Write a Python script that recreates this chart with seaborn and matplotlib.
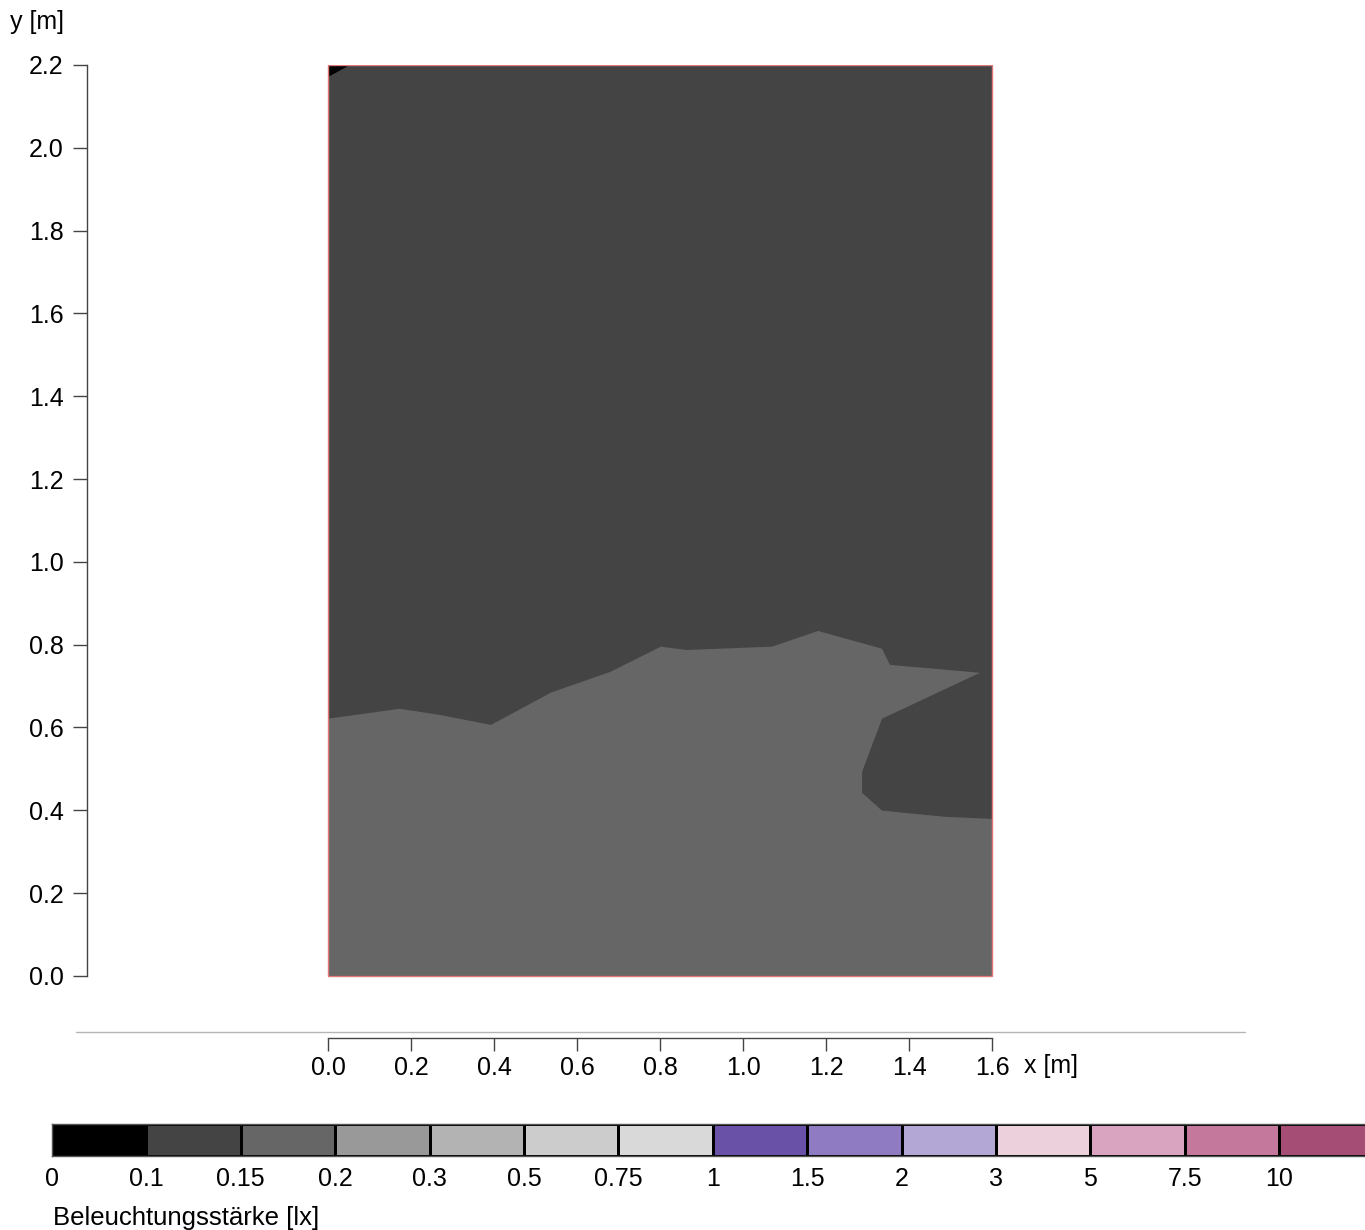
import numpy as np
import matplotlib
matplotlib.use("Agg")
import matplotlib.pyplot as plt
from matplotlib.colors import ListedColormap
from matplotlib.lines import Line2D
from matplotlib.patches import Rectangle
import seaborn as sns

# Illuminance classes [lx] and their fill colours
level_labels = ["0", "0.1", "0.15", "0.2", "0.3", "0.5", "0.75", "1",
                "1.5", "2", "3", "5", "7.5", "10"]
level_colors = ["#000000", "#444444", "#666666", "#999999", "#b3b3b3",
                "#cccccc", "#d9d9d9", "#6a51a8", "#8f7bc2", "#b3a7d6",
                "#ecd1dc", "#d8a4bf", "#c4789c", "#a64d75"]

# Room footprint [m]
room_width = 1.6
room_depth = 2.2

# 0.15 lx isoline (between the 0.1-0.15 and 0.15-0.2 classes)
iso015_x = [0.0, 0.173, 0.270, 0.393, 0.537, 0.680, 0.802, 0.863, 1.070,
            1.181, 1.335, 1.354, 1.571, 1.335, 1.287, 1.287, 1.335, 1.487, 1.6]
iso015_y = [0.621, 0.645, 0.630, 0.606, 0.684, 0.734, 0.795, 0.787, 0.795,
            0.833, 0.790, 0.751, 0.732, 0.621, 0.493, 0.442, 0.399, 0.384, 0.379]

# 0.1 lx isoline in the upper left corner
iso010_x = [0.0, 0.053, 0.0]
iso010_y = [2.2, 2.2, 2.171]

sns.set_theme(style="white")
plt.rcParams["font.family"] = ["Liberation Sans", "DejaVu Sans"]
plt.rcParams["font.size"] = 18
plt.rcParams["text.color"] = "black"

FS = 18
W, H = 1365, 1230
fig = plt.figure(figsize=(W / 100, H / 100), dpi=100)


def px_box(left, top, right, bottom):
    return [left / W, 1 - bottom / H, (right - left) / W, (bottom - top) / H]


# ---- floor plan ----
ax = fig.add_axes(px_box(87, 65, 1245, 1038))
ax.set_facecolor("white")
ax.set_xlim((87 - 328) / 415, (1245 - 328) / 415)
ax.set_ylim(room_depth - (1038 - 65) / 414, room_depth)

ax.add_patch(Rectangle((0, 0), room_width, room_depth,
                       facecolor=level_colors[1], edgecolor="none", zorder=1))
ax.fill(iso015_x + [room_width, 0.0], iso015_y + [0.0, 0.0],
        color=level_colors[2], lw=0, zorder=2)
ax.fill(iso010_x, iso010_y, color=level_colors[0], lw=0, zorder=3)
ax.add_patch(Rectangle((0, 0), room_width, room_depth, facecolor="none",
                       edgecolor="#e07878", lw=1, zorder=4))

for s in ("top", "right"):
    ax.spines[s].set_visible(False)
for s in ("left", "bottom"):
    ax.spines[s].set_color("#444444")
    ax.spines[s].set_linewidth(1)
ax.spines["left"].set_bounds(0, room_depth)
ax.spines["bottom"].set_bounds(0, room_width)

yt = np.round(np.arange(0, 2.21, 0.2), 1)
xt = np.round(np.arange(0, 1.61, 0.2), 1)
ax.set_yticks(yt, [f"{v:.1f}" for v in yt])
ax.set_xticks(xt, [f"{v:.1f}" for v in xt])
ax.tick_params(axis="y", left=True, length=10, width=1, color="#444444",
               pad=7, labelsize=FS, labelcolor="black")
ax.tick_params(axis="x", bottom=True, length=9, width=1, color="#444444",
               pad=4, labelsize=FS, labelcolor="black")
ax.grid(False)

fig.text(10 / W, 1 - 22 / H, "y [m]", ha="left", va="center", fontsize=FS,
         color="black")
fig.text(1024 / W, 1 - 1066 / H, "x [m]", ha="left", va="center",
         fontsize=FS, color="black")
fig.add_artist(Line2D([76 / W, 1245 / W], [1 - 1032 / H] * 2,
                      color="#b5b5b5", lw=1))

# ---- legend bar ----
seg = 94.4
cax = fig.add_axes(px_box(52, 1124, 52 + seg * len(level_colors), 1156))
sns.heatmap(np.arange(len(level_colors))[None, :],
            cmap=ListedColormap(level_colors), vmin=-0.5,
            vmax=len(level_colors) - 0.5, cbar=False, linewidths=1,
            linecolor="black", xticklabels=False, yticklabels=False, ax=cax)
for s in cax.spines.values():
    s.set_visible(True)
    s.set_color("#555555")
    s.set_linewidth(1)
cax.set_xticks(np.arange(len(level_labels)), level_labels, rotation=0)
cax.set_yticks([])
cax.tick_params(axis="x", bottom=True, length=0, pad=8, labelsize=FS,
                labelcolor="black")
fig.text(53 / W, 1 - 1218 / H, "Beleuchtungsstärke [lx]", ha="left",
         va="center", fontsize=18.5, color="black")

fig.savefig("out.png", dpi=100)
